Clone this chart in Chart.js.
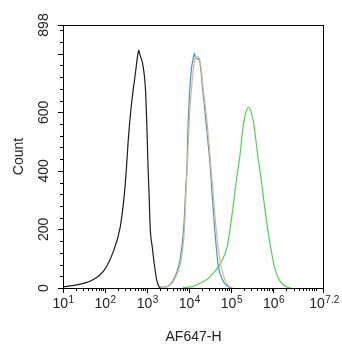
<!DOCTYPE html>
<html>
<head>
<meta charset="utf-8">
<script src="https://cdn.jsdelivr.net/npm/chart.js@4/dist/chart.umd.min.js"></script>
<style>
  body { margin: 0; background: #fff; }
  canvas { display: block; }
</style>
</head>
<body>
<canvas id="grafico" width="342" height="350"></canvas>
<script>
// eje x en exponentes de 10, eje y en cuentas
const xTickExps = [1, 2, 3, 4, 5, 6, 7.2];
const yTickLabels = [0, 200, 400, 600, 898];
const yMajorTicks = [0, 200, 400, 600, 800];

const negroExp = [1.0, 1.30, 1.70, 1.98, 2.18, 2.36, 2.46, 2.52, 2.55, 2.62, 2.72, 2.78, 2.80, 2.83, 2.89, 2.96, 2.99, 3.02, 3.05, 3.07, 3.12, 3.18, 3.23, 3.28, 3.31];
const negroCount = [4, 10, 27, 61, 119, 209, 324, 437, 505, 619, 734, 800, 812, 795, 767, 676, 563, 414, 300, 209, 140, 70, 25, 4, 0];

const azulExp = [3.30, 3.46, 3.66, 3.78, 3.87, 3.91, 3.95, 3.96, 3.99, 4.04, 4.10, 4.12, 4.15, 4.24, 4.32, 4.40, 4.50, 4.54, 4.60, 4.68, 4.79, 4.93, 5.02];
const azulCount = [3, 4, 39, 96, 209, 324, 437, 505, 619, 733, 790, 801, 785, 778, 676, 563, 410, 324, 209, 85, 27, 4, 0];

const naranjaExp = [3.32, 3.49, 3.69, 3.81, 3.89, 3.92, 3.96, 4.00, 4.06, 4.12, 4.18, 4.26, 4.34, 4.43, 4.52, 4.57, 4.64, 4.74, 4.88, 5.02];
const naranjaCount = [2, 5, 41, 99, 212, 324, 437, 574, 693, 772, 792, 772, 669, 556, 403, 318, 198, 85, 17, 0];

const verdeExp = [3.85, 4.06, 4.26, 4.50, 4.74, 4.90, 5.02, 5.12, 5.20, 5.29, 5.41, 5.53, 5.63, 5.71, 5.81, 5.93, 6.02, 6.14, 6.30, 6.42];
const verdeCount = [2, 4, 16, 39, 84, 141, 255, 369, 448, 562, 617, 562, 448, 369, 255, 141, 73, 27, 4, 0];

function puntos(exps, counts) {
  return exps.map((e, i) => ({ x: Math.pow(10, e), y: counts[i] }));
}

function serie(exps, counts, color) {
  return {
    data: puntos(exps, counts),
    showLine: true,
    borderColor: color,
    borderWidth: 1.2,
    pointRadius: 0,
    cubicInterpolationMode: 'monotone',
    fill: false
  };
}

const fuente = "'Liberation Sans', Arial, sans-serif";

const ejes = {
  id: 'ejes',
  afterDraw(chart) {
    const ctx = chart.ctx;
    const a = chart.chartArea;
    const xs = chart.scales.x;
    const ys = chart.scales.y;
    ctx.save();
    ctx.strokeStyle = '#000';
    ctx.lineWidth = 1;
    ctx.strokeRect(a.left + 0.5, a.top + 0.5, a.right - a.left - 1, a.bottom - a.top);

    // marcas del eje y
    ctx.beginPath();
    for (let v = 0; v <= 880; v += 40) {
      const y = Math.round(ys.getPixelForValue(v)) + 0.5;
      const largo = yMajorTicks.includes(v) ? 5 : 3;
      ctx.moveTo(a.left, y);
      ctx.lineTo(a.left - largo, y);
    }
    const yTop = Math.round(ys.getPixelForValue(898)) + 0.5;
    ctx.moveTo(a.left, yTop);
    ctx.lineTo(a.left - 5, yTop);

    // marcas del eje x
    for (let d = 1; d <= 7; d++) {
      const xm = Math.round(xs.getPixelForValue(Math.pow(10, d))) + 0.5;
      ctx.moveTo(xm, a.bottom);
      ctx.lineTo(xm, a.bottom + (d < 7 ? 5 : 3));
      if (d < 7) {
        for (let k = 2; k <= 9; k++) {
          const xn = Math.round(xs.getPixelForValue(k * Math.pow(10, d))) + 0.5;
          ctx.moveTo(xn, a.bottom);
          ctx.lineTo(xn, a.bottom + 3);
        }
      }
    }
    const xEnd = Math.round(xs.getPixelForValue(Math.pow(10, 7.2))) - 0.5;
    ctx.moveTo(xEnd, a.bottom);
    ctx.lineTo(xEnd, a.bottom + 5);
    ctx.stroke();

    // etiquetas x con exponente
    ctx.fillStyle = '#222';
    ctx.textBaseline = 'alphabetic';
    ctx.textAlign = 'left';
    xTickExps.forEach(e => {
      const x = xs.getPixelForValue(Math.pow(10, e));
      ctx.font = '14px ' + fuente;
      const w1 = ctx.measureText('10').width;
      ctx.font = '10px ' + fuente;
      const w2 = ctx.measureText(String(e)).width;
      const x0 = x - (w1 + w2) / 2;
      ctx.font = '14px ' + fuente;
      ctx.fillText('10', x0, 308);
      ctx.font = '10px ' + fuente;
      ctx.fillText(String(e), x0 + w1 + 0.5, 303);
    });

    // etiquetas y giradas
    ctx.font = '14px ' + fuente;
    ctx.textAlign = 'center';
    yTickLabels.forEach(v => {
      const y = ys.getPixelForValue(v);
      ctx.save();
      ctx.translate(48, y);
      ctx.rotate(-Math.PI / 2);
      ctx.fillText(String(v), 0, 0);
      ctx.restore();
    });

    // titulos
    ctx.save();
    ctx.translate(23, (a.top + a.bottom) / 2);
    ctx.rotate(-Math.PI / 2);
    ctx.fillText('Count', 0, 0);
    ctx.restore();
    ctx.fillText('AF647-H', (a.left + a.right) / 2, 341);
    ctx.restore();
  }
};

new Chart(document.getElementById('grafico'), {
  type: 'scatter',
  data: {
    datasets: [
      serie(negroExp, negroCount, '#1c1c1c'),
      serie(naranjaExp, naranjaCount, '#e2b48e'),
      serie(azulExp, azulCount, '#3a9cc8'),
      serie(verdeExp, verdeCount, '#52d352')
    ]
  },
  options: {
    responsive: false,
    animation: false,
    layout: { padding: { left: 63, top: 25, right: 18, bottom: 62 } },
    plugins: { legend: { display: false }, tooltip: { enabled: false } },
    scales: {
      x: {
        type: 'logarithmic',
        min: 10,
        max: Math.pow(10, 7.2),
        ticks: { display: false },
        grid: { display: false },
        border: { display: false },
        afterFit: s => { s.height = 0; }
      },
      y: {
        min: 0,
        max: 898,
        ticks: { display: false },
        grid: { display: false },
        border: { display: false },
        afterFit: s => { s.width = 0; }
      }
    }
  },
  plugins: [ejes]
});
</script>
</body>
</html>
